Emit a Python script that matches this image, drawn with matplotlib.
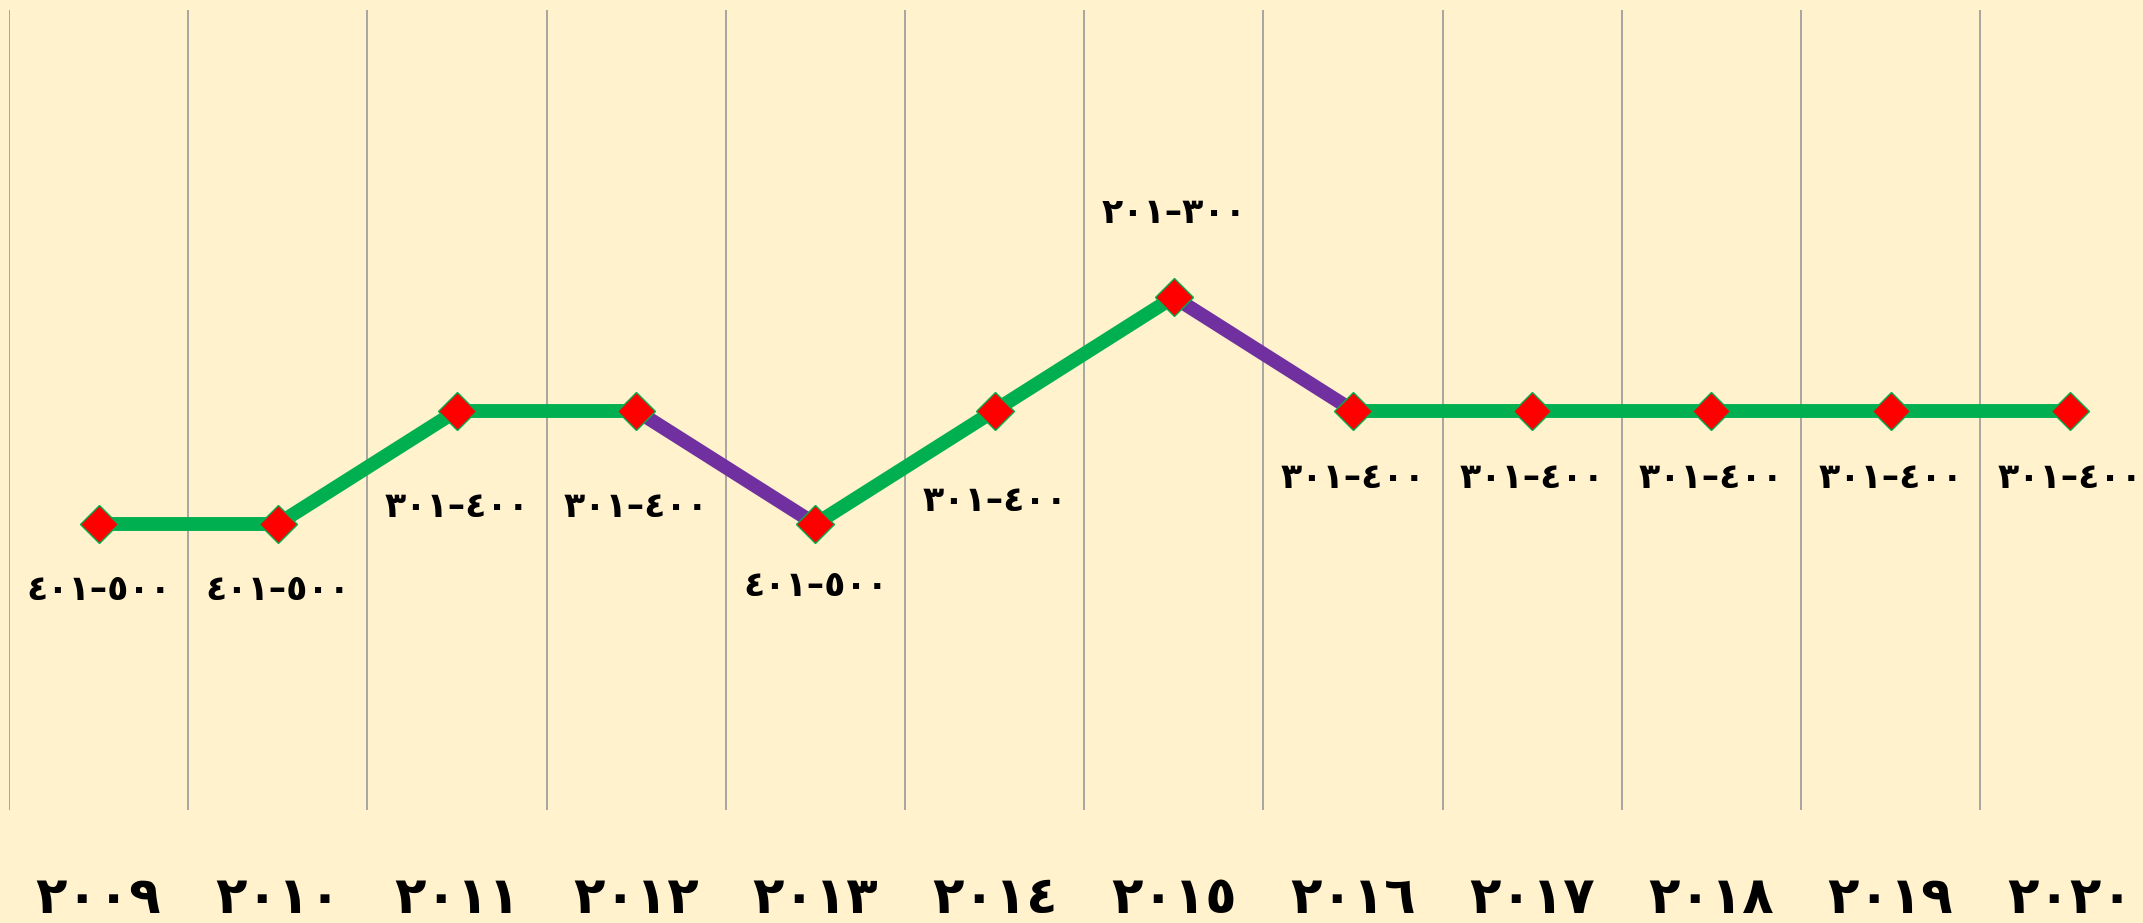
import numpy as np
import matplotlib
matplotlib.use("Agg")
import matplotlib.pyplot as plt

# Data
years = [2009, 2010, 2011, 2012, 2013, 2014, 2015, 2016, 2017, 2018, 2019, 2020]
rank_bands = ["401-500", "401-500", "301-400", "301-400", "401-500", "301-400",
              "201-300", "301-400", "301-400", "301-400", "301-400", "301-400"]
band_order = ["401-500", "301-400", "201-300"]

# label offsets in pixels (layout only)
label_dy = [-66, -66, -96, -96, -62, -90, 84, -67, -67, -67, -67, -67]

arabic_digits = str.maketrans("0123456789-", "٠١٢٣٤٥٦٧٨٩–")


def to_arabic(s):
    return str(s).translate(arabic_digits)


bg = "#FFF2CC"
green = "#00B050"
purple = "#7030A0"

x = np.arange(len(years))
y = np.array([band_order.index(b) + 1 for b in rank_bands])

fig = plt.figure(figsize=(21.43, 9.23), dpi=100, facecolor=bg)
ax = fig.add_axes([9 / 2143, 113 / 923, 12 * 179.2 / 2143, 800 / 923])
ax.set_facecolor(bg)

# segments: green when rank improves or stays, purple when it drops
for i in range(len(x) - 1):
    col = purple if y[i + 1] < y[i] else green
    ax.plot(x[i:i + 2], y[i:i + 2], color=col, lw=10, solid_capstyle="butt", zorder=2)

ax.plot(x, y, ls="none", marker="D", ms=19, mfc="red", mec=green, mew=1, zorder=3)

for xi, yi, band, dy in zip(x, y, rank_bands, label_dy):
    ax.annotate(to_arabic(band), (xi, yi), xytext=(0, dy), textcoords="offset pixels",
                ha="center", va="center", fontsize=25, fontweight="bold", color="black")

ax.set_xlim(-0.5, 11.5)
ax.set_ylim(-1.52, 5.53)
ax.set_xticks(x)
ax.set_xticklabels([to_arabic(yr) for yr in years], fontsize=37, fontweight="bold")
ax.set_xticks(np.arange(-0.5, 11.5, 1), minor=True)
ax.tick_params(axis="x", which="both", length=0, pad=46)
ax.set_yticks([])
ax.grid(axis="x", which="minor", color="#A0A0A0", lw=1.3)
ax.grid(axis="x", which="major", visible=False)
for s in ax.spines.values():
    s.set_visible(False)

fig.savefig("out.png", dpi=100, facecolor=bg)
